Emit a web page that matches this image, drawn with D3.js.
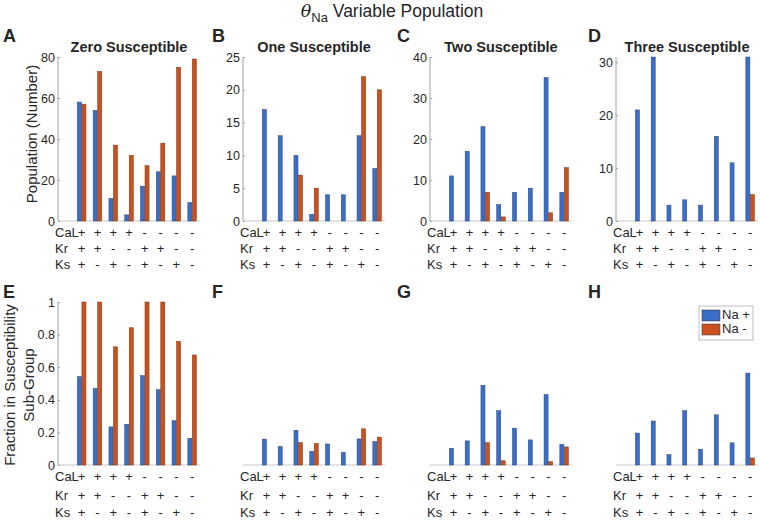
<!DOCTYPE html>
<html>
<head>
<meta charset="utf-8">
<script src="https://cdn.jsdelivr.net/npm/d3@7"></script>
<style>
  body { margin: 0; background: #fff; }
  text { font-family: "Liberation Sans", Arial, sans-serif; fill: #262626; }
</style>
</head>
<body>
<script>
// signos de cada categoria (la primera ranura del eje va vacia)
var calSigns = ["+", "+", "+", "+", "-", "-", "-", "-"];
var krSigns  = ["+", "+", "-", "-", "+", "+", "-", "-"];
var ksSigns  = ["+", "-", "+", "-", "+", "-", "+", "-"];

var titles = ["Zero Susceptible", "One Susceptible", "Two Susceptible", "Three Susceptible"];
var lettersTop = ["A", "B", "C", "D"];
var lettersBottom = ["E", "F", "G", "H"];

// conteos (fila de arriba)
var zeroPos  = [58, 54, 11, 3, 17, 24, 22, 9];
var zeroNeg  = [57, 73, 37, 32, 27, 38, 75, 79];
var onePos   = [17, 13, 10, 1, 4, 4, 13, 8];
var oneNeg   = [0, 0, 7, 5, 0, 0, 22, 20];
var twoPos   = [11, 17, 23, 4, 7, 8, 35, 7];
var twoNeg   = [0, 0, 7, 1, 0, 0, 2, 13];
var threePos = [21, 31, 3, 4, 3, 16, 11, 31];
var threeNeg = [0, 0, 0, 0, 0, 0, 0, 5];

// fracciones (fila de abajo)
var fracZeroPos  = [0.542, 0.470, 0.234, 0.250, 0.548, 0.462, 0.272, 0.164];
var fracZeroNeg  = [1, 1, 0.725, 0.842, 1, 1, 0.758, 0.675];
var fracOnePos   = [0.159, 0.113, 0.213, 0.083, 0.129, 0.077, 0.160, 0.145];
var fracOneNeg   = [0, 0, 0.137, 0.132, 0, 0, 0.222, 0.171];
var fracTwoPos   = [0.103, 0.148, 0.489, 0.333, 0.226, 0.154, 0.432, 0.127];
var fracTwoNeg   = [0, 0, 0.137, 0.026, 0, 0, 0.020, 0.111];
var fracThreePos = [0.196, 0.270, 0.064, 0.333, 0.097, 0.308, 0.136, 0.564];
var fracThreeNeg = [0, 0, 0, 0, 0, 0, 0, 0.043];

var topMax   = [80, 25, 40, 31];
var topTicks = [[0, 20, 40, 60, 80], [0, 5, 10, 15, 20, 25], [0, 10, 20, 30, 40], [0, 10, 20, 30]];
var fracTicks = [0, 0.2, 0.4, 0.6, 0.8, 1];

var WIDTH = 760, HEIGHT = 526;
var BLUE = "#3b6ec6", ORANGE = "#c9511f";

var svg = d3.select("body").append("svg")
  .attr("width", WIDTH).attr("height", HEIGHT);

var lefts = [58, 243, 430, 616];
var plotW = 142;

// titulo general
var tt = svg.append("text").attr("x", 392).attr("y", 17)
  .attr("text-anchor", "middle").style("font-size", "17.5px");
tt.append("tspan").style("font-family", "'DejaVu Serif', serif").style("font-style", "italic").text("\u03B8");
tt.append("tspan").attr("dy", 5).style("font-size", "13px").text("Na");
tt.append("tspan").attr("dy", -5).text(" Variable Population");

function panel(i, top, bottom, pos, neg, yMax, ticks, showAxis, rows) {
  var left = lefts[i];
  var x = d3.scaleBand().domain(d3.range(9)).range([left, left + plotW]);
  var inner = d3.scaleBand().domain([0, 1]).range([0, x.step()])
    .paddingInner(0.1).paddingOuter(0.8);
  var y = d3.scaleLinear().domain([0, yMax]).range([bottom, top]);

  var g = svg.append("g");

  // linea base
  g.append("line").attr("x1", left).attr("x2", left + plotW)
    .attr("y1", y(0)).attr("y2", y(0))
    .attr("stroke", "#c8c8c8").attr("stroke-width", 1);

  if (showAxis) {
    var ax = g.append("g").attr("transform", "translate(" + left + ",0)")
      .call(d3.axisLeft(y).tickValues(ticks).tickSize(-2).tickPadding(3).tickFormat(d3.format("")));
    ax.select(".domain").attr("stroke", "#a0a0a0").attr("d", "M0," + y(0) + "V" + y(yMax));
    ax.selectAll(".tick line").attr("stroke", "#a0a0a0");
    ax.selectAll(".tick text").style("font-size", "12.5px").attr("fill", "#262626")
      .style("font-family", "'Liberation Sans', Arial, sans-serif");
  }

  var series = [pos, neg];
  var colors = [BLUE, ORANGE];
  var edges = ["#27457a", "#7a3212"];
  series.forEach(function (vals, s) {
    g.selectAll(null).data(vals).enter().append("rect")
      .attr("x", function (d, k) { return x(k + 1) + inner(s); })
      .attr("width", inner.bandwidth())
      .attr("y", function (d) { return y(d); })
      .attr("height", function (d) { return y(0) - y(d); })
      .attr("fill", colors[s])
      .attr("stroke", edges[s])
      .attr("stroke-width", function (d) { return d > 0 ? 0.5 : 0; });
  });

  // filas de etiquetas
  var names = ["CaL", "Kr", "Ks"];
  var signs = [calSigns, krSigns, ksSigns];
  rows.forEach(function (ry, r) {
    g.append("text").attr("x", left - 3).attr("y", ry)
      .attr("dominant-baseline", "middle").style("font-size", "13px").text(names[r]);
    g.selectAll(null).data(signs[r]).enter().append("text")
      .attr("x", function (d, k) { return x(k + 1) + x.bandwidth() / 2; })
      .attr("y", ry)
      .attr("text-anchor", "middle").attr("dominant-baseline", "middle")
      .style("font-size", "13px").text(function (d) { return d; });
  });
}

var topPos = [zeroPos, onePos, twoPos, threePos];
var topNeg = [zeroNeg, oneNeg, twoNeg, threeNeg];
var botPos = [fracZeroPos, fracOnePos, fracTwoPos, fracThreePos];
var botNeg = [fracZeroNeg, fracOneNeg, fracTwoNeg, fracThreeNeg];

var letterX = [3, 212, 397, 588];
for (var i = 0; i < 4; i++) {
  panel(i, 57, 221, topPos[i], topNeg[i], topMax[i], topTicks[i], true, [234, 250, 266]);
  panel(i, 302, 465, botPos[i], botNeg[i], 1, fracTicks, i === 0, [478, 497, 514]);

  svg.append("text").attr("x", lefts[i] + plotW / 2).attr("y", 52)
    .attr("text-anchor", "middle").style("font-size", "14.5px").style("font-weight", "bold")
    .text(titles[i]);
  svg.append("text").attr("x", letterX[i]).attr("y", 42)
    .style("font-size", "18px").style("font-weight", "bold").text(lettersTop[i]);
  svg.append("text").attr("x", letterX[i]).attr("y", 298)
    .style("font-size", "18px").style("font-weight", "bold").text(lettersBottom[i]);
}

// titulos de ejes
svg.append("text").attr("transform", "translate(37,134) rotate(-90)")
  .attr("text-anchor", "middle").style("font-size", "15px").text("Population (Number)");
svg.append("text").attr("transform", "translate(15,385) rotate(-90)")
  .attr("text-anchor", "middle").style("font-size", "15px").text("Fraction in Susceptibility");
svg.append("text").attr("transform", "translate(34,385) rotate(-90)")
  .attr("text-anchor", "middle").style("font-size", "15px").text("Sub-Group");

// leyenda
var lg = svg.append("g").attr("transform", "translate(699,306)");
lg.append("rect").attr("width", 54).attr("height", 34)
  .attr("fill", "#fff").attr("stroke", "#b0b0b0").attr("stroke-width", 0.8);
[["Na +", BLUE], ["Na -", ORANGE]].forEach(function (e, k) {
  lg.append("rect").attr("x", 3).attr("y", 4 + k * 14).attr("width", 18).attr("height", 11)
    .attr("fill", e[1]).attr("stroke", "#333").attr("stroke-width", 0.5);
  lg.append("text").attr("x", 23).attr("y", 10 + k * 14).attr("dominant-baseline", "middle")
    .style("font-size", "13px").text(e[0]);
});
</script>
</body>
</html>
